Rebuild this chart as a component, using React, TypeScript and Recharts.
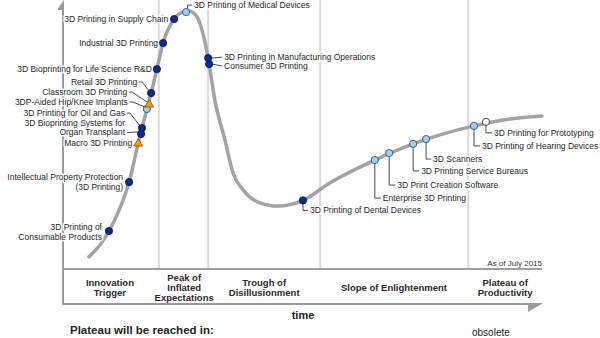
import { ComposedChart, Line, Scatter, XAxis, YAxis, ReferenceLine } from 'recharts';

const FONT = '"Liberation Sans", Arial, sans-serif';

// phases along the time axis (x 0..100)
const phaseNames = ['Innovation\nTrigger', 'Peak of\nInflated\nExpectations', 'Trough of\nDisillusionment', 'Slope of Enlightenment', 'Plateau of\nProductivity'];
const phaseCenters = [9.8, 25.3, 42.0, 69.1, 92.3];
const phaseBounds = [20.0, 30.3, 53.7, 84.6];

// hype curve (expectations 0..100)
const curveX = [5.4, 7.7, 9.6, 11.9, 13.8, 15.7, 16.5, 17.5, 18.4, 19.6, 20.9, 23.2, 24.6, 26.3, 28.0, 29.2, 30.3, 31.7, 33.8, 35.5, 37.6, 40.7, 44.9, 50.1, 55.7, 65.1, 73.1, 85.8, 93.3, 100];
const curveY = [4.5, 8.9, 14.1, 22.7, 32.3, 46.8, 52.4, 59.3, 65.4, 74.3, 84.0, 92.9, 95.2, 95.9, 93.7, 87.7, 78.4, 62.8, 48.0, 35.7, 29.4, 24.9, 23.4, 25.5, 32.0, 40.5, 46.5, 53.2, 55.8, 56.9];

// technologies on the curve
const techNames = [
  '3D Printing of\nConsumable Products',
  'Intellectual Property Protection\n(3D Printing)',
  'Macro 3D Printing',
  '3D Bioprinting Systems for\nOrgan Transplant',
  '3D Printing for Oil and Gas',
  '3DP-Aided Hip/Knee Implants',
  'Classroom 3D Printing',
  'Retail 3D Printing',
  '3D Bioprinting for Life Science R&D',
  'Industrial 3D Printing',
  '3D Printing in Supply Chain',
  '3D Printing of Medical Devices',
  '3D Printing in Manufacturing Operations',
  'Consumer 3D Printing',
  '3D Printing of Dental Devices',
  'Enterprise 3D Printing',
  '3D Print Creation Software',
  '3D Printing Service Bureaus',
  '3D Scanners',
  '3D Printing of Hearing Devices',
  '3D Printing for Prototyping',
];
const techX = [9.6, 13.8, 15.7, 16.3, 16.5, 17.5, 18.0, 18.4, 19.6, 20.9, 23.2, 25.7, 30.3, 30.5, 50.1, 65.1, 68.1, 73.1, 75.8, 85.8, 88.3];
const techY = [14.1, 32.3, 46.8, 50.2, 52.4, 59.5, 61.3, 65.4, 74.3, 84.0, 92.9, 95.5, 78.4, 76.2, 25.5, 40.5, 43.1, 46.5, 48.3, 53.2, 54.7];
// years to plateau: dark = 5-10, light = 2-5, white = <2, tri = obsolete
const techKind = ['dark', 'dark', 'tri', 'dark', 'dark', 'light', 'tri', 'dark', 'dark', 'dark', 'dark', 'light', 'dark', 'dark', 'dark', 'light', 'light', 'light', 'light', 'light', 'white'];

// label placement (pixel offsets from the marker)
const labelLayout = [
  { dx: -7, dy: -4, leader: 'none' },
  { dx: -6, dy: -5, leader: 'none' },
  { dx: -6, dy: 0, leader: 'none' },
  { dx: -16, dy: -11, leader: 'left' },
  { dx: -17, dy: -15, leader: 'left' },
  { dx: -19, dy: -7, leader: 'left' },
  { dx: -22, dy: -12, leader: 'left' },
  { dx: -14, dy: -11, leader: 'left' },
  { dx: -5, dy: 0, leader: 'none' },
  { dx: -5, dy: 0, leader: 'none' },
  { dx: -6, dy: 0, leader: 'none' },
  { dx: 8, dy: -7, leader: 'up' },
  { dx: 16, dy: -1, leader: 'side' },
  { dx: 15, dy: 2, leader: 'side' },
  { dx: 7, dy: 10, leader: 'down' },
  { dx: 8, dy: 38, leader: 'down' },
  { dx: 8, dy: 32, leader: 'down' },
  { dx: 8, dy: 27, leader: 'down' },
  { dx: 7, dy: 20, leader: 'down' },
  { dx: 8, dy: 20, leader: 'down' },
  { dx: 8, dy: 11, leader: 'down' },
];

const curveData = curveX.map((x, i) => ({ x, y: curveY[i] }));
const techData = techNames.map((name, i) => ({ name, x: techX[i], y: techY[i], kind: techKind[i], i }));

const LINE_H = 9.5;

function PhaseTick(props: any) {
  const { x, y, payload } = props;
  let idx = 0;
  phaseCenters.forEach((c, i) => {
    if (Math.abs(c - payload.value) < Math.abs(phaseCenters[idx] - payload.value)) idx = i;
  });
  const lines = phaseNames[idx].split('\n');
  const start = lines.length === 3 ? 12 : lines.length === 2 ? 17 : 22;
  return (
    <text textAnchor="middle" fontFamily={FONT} fontSize={9.5} fontWeight="bold" fill="#2a2a2a">
      {lines.map((l, i) => (
        <tspan key={i} x={x} y={y + start + i * 10}>{l}</tspan>
      ))}
    </text>
  );
}

function Marker({ cx, cy, kind }: { cx: number; cy: number; kind: string }) {
  if (kind === 'tri') {
    return <polygon points={`${cx},${cy - 4.5} ${cx + 4.5},${cy + 3} ${cx - 4.5},${cy + 3}`} fill="#f5a200" stroke="#7d5400" strokeWidth={0.8} />;
  }
  const fill = kind === 'dark' ? '#0c2c8c' : kind === 'light' ? '#a6cdee' : '#ffffff';
  const stroke = kind === 'dark' ? '#06195a' : kind === 'light' ? '#2a4f8c' : '#333333';
  return <circle cx={cx} cy={cy} r={3.6} fill={fill} stroke={stroke} strokeWidth={0.9} />;
}

function TechShape(props: any) {
  const { cx, cy, payload } = props;
  const lay = labelLayout[payload.i];
  const lines = payload.name.split('\n');
  const tx = cx + lay.dx;
  const ty = cy + lay.dy;
  const anchor = lay.dx < 0 ? 'end' : 'start';
  let leader = '';
  if (lay.leader === 'left') {
    const ly = ty + (lines.length - 1) * LINE_H;
    leader = `M${tx + 2},${ly} H${tx + 5} L${cx - 2},${cy - 2}`;
  } else if (lay.leader === 'up') {
    leader = `M${cx + 1.5},${cy - 3} V${ty} H${tx - 2}`;
  } else if (lay.leader === 'down') {
    leader = `M${cx},${cy + 3} V${ty} H${tx - 2}`;
  } else if (lay.leader === 'side') {
    leader = `M${cx + 3},${cy} L${tx - 2},${ty}`;
  }
  return (
    <g>
      <text
        textAnchor={anchor}
        fontFamily={FONT}
        fontSize={8.5}
        fill="#262626"
        stroke="#ffffff"
        strokeWidth={3}
        strokeLinejoin="round"
        paintOrder="stroke"
      >
        {lines.map((l: string, i: number) => (
          <tspan key={i} x={tx} y={ty + 3 + i * LINE_H}>{l}</tspan>
        ))}
      </text>
      {leader && <path d={leader} fill="none" stroke="#333" strokeWidth={0.9} />}
      <Marker cx={cx} cy={cy} kind={payload.kind} />
    </g>
  );
}

export default function App() {
  return (
    <div style={{ position: 'absolute', left: 0, top: 0, width: 600, height: 338, background: '#fff', overflow: 'hidden' }}>
      <svg width={600} height={338} style={{ position: 'absolute', left: 0, top: 0 }}>
        <line x1={63} y1={8} x2={63} y2={305} stroke="#9a9a9a" strokeWidth={2} />
        <polygon points="64,0 64,10 57,10" fill="#9a9a9a" />
        <line x1={62} y1={304} x2={530} y2={304} stroke="#9a9a9a" strokeWidth={2} />
        <polygon points="528,303 543,303 528,312" fill="#9a9a9a" />
        <text x={542} y={266} textAnchor="end" fontFamily={FONT} fontSize={8} fill="#333">As of July 2015</text>
        <text x={303} y={319} textAnchor="middle" fontFamily={FONT} fontSize={11} fontWeight="bold" fill="#222">time</text>
        <text x={70} y={334} fontFamily={FONT} fontSize={11.5} fontWeight="bold" fill="#222">Plateau will be reached in:</text>
        <text x={472} y={335.5} fontFamily={FONT} fontSize={10} fill="#222">obsolete</text>
      </svg>
      <div style={{ position: 'absolute', left: 0, top: 0 }}>
        <ComposedChart width={600} height={338} margin={{ top: 0, right: 58, bottom: 0, left: 63 }}>
          <XAxis
            type="number"
            dataKey="x"
            domain={[0, 100]}
            ticks={phaseCenters}
            tick={<PhaseTick />}
            tickLine={false}
            tickSize={0}
            tickMargin={0}
            height={69}
            interval={0}
            axisLine={{ stroke: '#a0a0a0', strokeWidth: 2 }}
          />
          <YAxis type="number" dataKey="y" domain={[0, 100]} hide />
          {phaseBounds.map((b) => (
            <ReferenceLine key={b} x={b} stroke="#dadada" strokeWidth={2} />
          ))}
          <Line
            data={curveData}
            dataKey="y"
            type="monotone"
            stroke="#a3a3a3"
            strokeWidth={3.5}
            strokeLinecap="round"
            dot={false}
            activeDot={false}
            isAnimationActive={false}
          />
          <Scatter data={techData} dataKey="y" shape={<TechShape />} isAnimationActive={false} />
        </ComposedChart>
      </div>
    </div>
  );
}
